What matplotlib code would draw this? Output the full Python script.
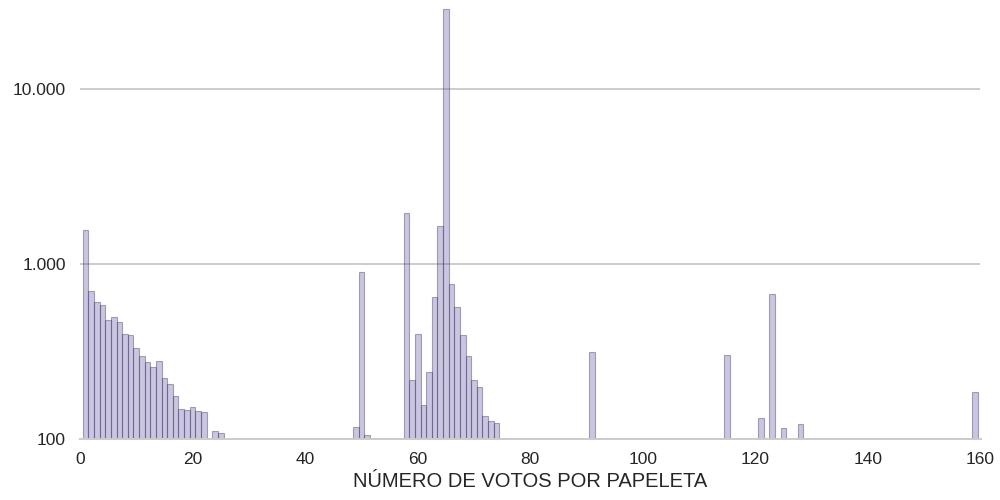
import numpy as np
import matplotlib
matplotlib.use("Agg")
import matplotlib.pyplot as plt
from matplotlib.ticker import FuncFormatter, NullLocator

# votos por papeleta -> numero de papeletas
votos = [1, 2, 3, 4, 5, 6, 7, 8, 9, 10, 11, 12, 13, 14, 15, 16, 17, 18, 19, 20, 21, 22,
         24, 25, 49, 50, 51,
         58, 59, 60, 61, 62, 63, 64, 65, 66, 67, 68, 69, 70, 71, 72, 73, 74,
         91, 115, 121, 123, 125, 128, 159]
papeletas = [1560, 701, 607, 583, 479, 498, 464, 398, 391, 331, 298, 275, 258, 279, 223, 206,
             174, 148, 145, 152, 143, 141,
             110, 107, 116, 897, 104,
             1950, 217, 397, 156, 241, 648, 1642, 28530, 766, 566, 391, 297, 217, 197, 134, 125, 123,
             313, 301, 131, 671, 114, 121, 185]
yticks = [100, 1000, 10000]
xticks = [0, 20, 40, 60, 80, 100, 120, 140, 160]

plt.rcParams['font.family'] = ['Liberation Sans', 'DejaVu Sans']

fig = plt.figure(figsize=(10, 5), dpi=100)
ax = fig.add_axes([0.08, 0.122, 0.9005, 0.878])

ax.bar(votos, papeletas, width=1.0, bottom=1,
       facecolor=(0.32, 0.27, 0.62, 0.30),
       edgecolor=(0.25, 0.22, 0.38, 0.42), linewidth=0.8, zorder=2)

ax.set_yscale('log')
ax.set_ylim(100, 32270)
ax.set_xlim(0, 160)
ax.set_yticks(yticks)
ax.yaxis.set_minor_locator(NullLocator())
ax.yaxis.set_major_formatter(FuncFormatter(lambda v, p: f"{int(v):,}".replace(",", ".")))
ax.set_xticks(xticks)

ax.grid(axis='y', color='#cccccc', linewidth=1.4, zorder=0)
ax.grid(axis='x', visible=False)
ax.set_axisbelow(True)
for s in ['top', 'right', 'left']:
    ax.spines[s].set_visible(False)
ax.spines['bottom'].set_color('#cccccc')
ax.spines['bottom'].set_linewidth(1.4)

ax.tick_params(axis='both', length=0, labelsize=12.5, colors='#262626')
ax.tick_params(axis='y', pad=10)
ax.tick_params(axis='x', pad=9)
ax.set_xlabel('NÚMERO DE VOTOS POR PAPELETA', fontsize=14.5, color='#262626', labelpad=4)

fig.savefig('out.png', dpi=100)
